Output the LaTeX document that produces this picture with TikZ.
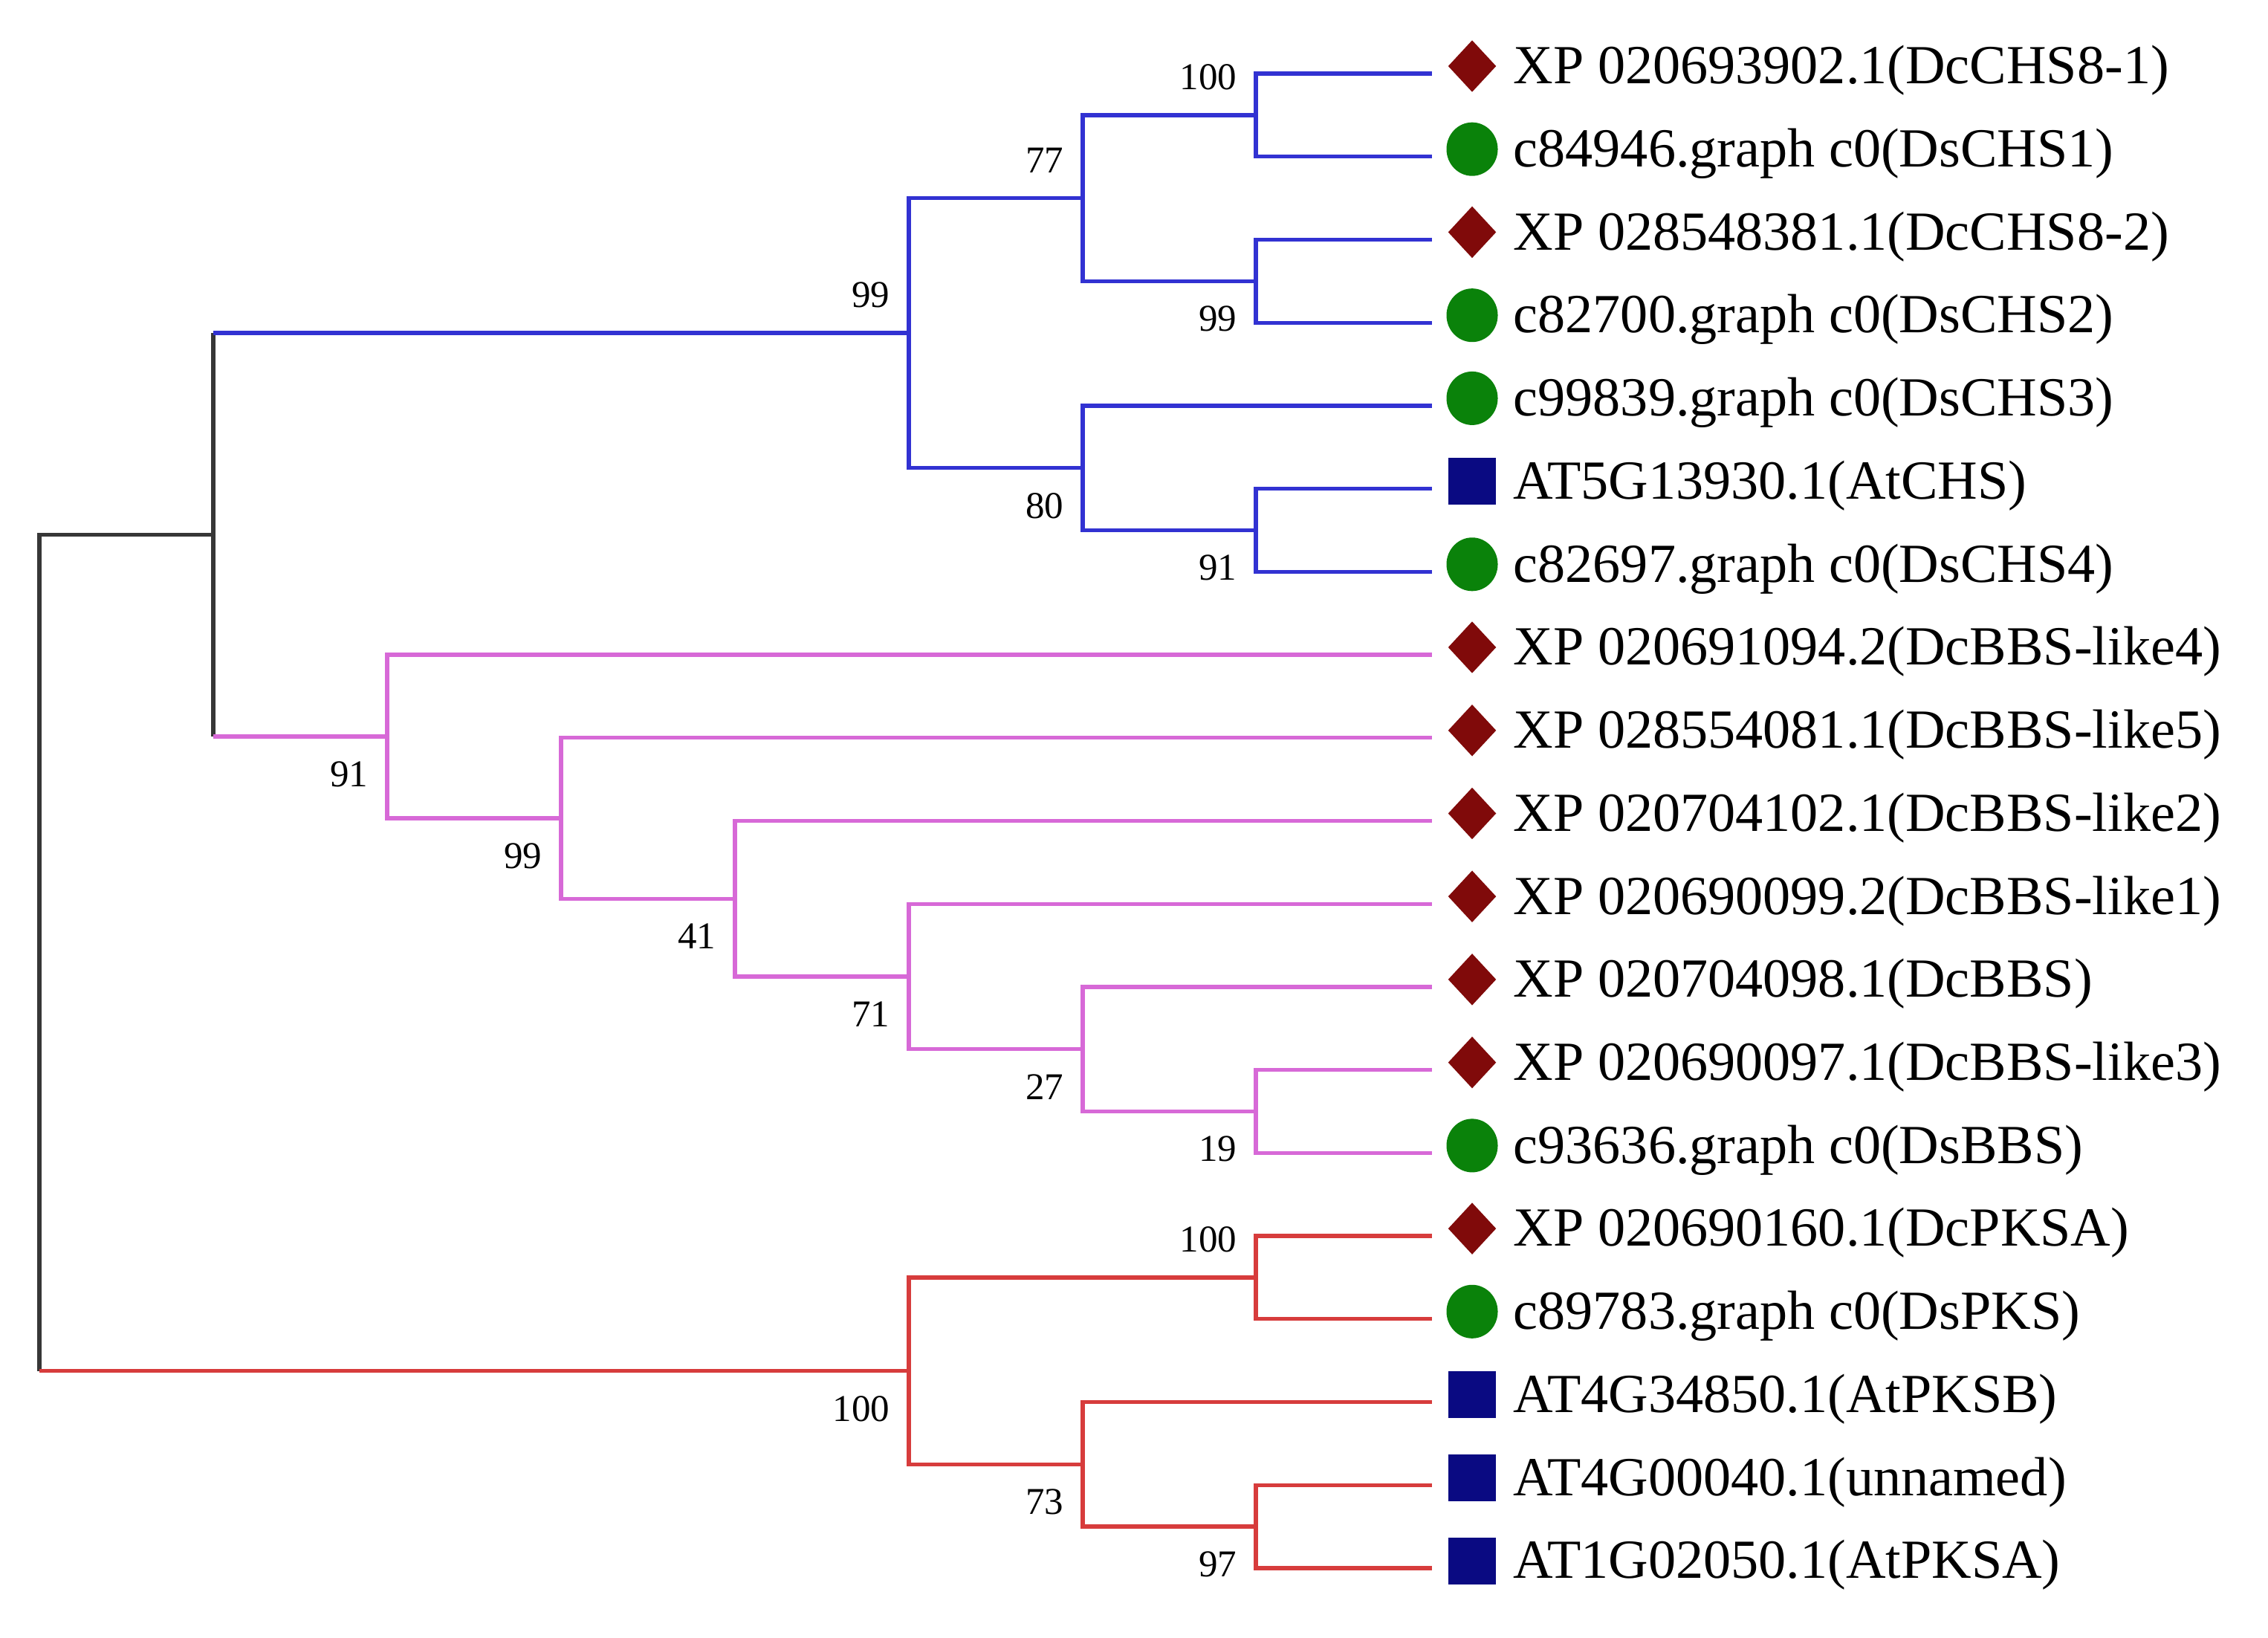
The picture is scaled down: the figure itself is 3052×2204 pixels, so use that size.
\documentclass[tikz,border=0pt]{standalone}
\usepackage{fontspec}
\setmainfont{Liberation Serif}
\usetikzlibrary{shapes.geometric, positioning}

\definecolor{chsblue}{RGB}{50,50,210}
\definecolor{bbspink}{RGB}{215,105,215}
\definecolor{pksred}{RGB}{215,60,60}
\definecolor{rootgray}{RGB}{55,55,55}
\definecolor{dcred}{RGB}{128,10,10}
\definecolor{dsgreen}{RGB}{10,130,10}
\definecolor{atnavy}{RGB}{10,10,130}

\begin{document}
\begin{tikzpicture}[x=0.01cm, y=-0.01cm,
	branch/.style={line width=1.5pt},
	chs/.style={branch, draw=chsblue},
	bbs/.style={branch, draw=bbspink},
	pks/.style={branch, draw=pksred},
	rootline/.style={branch, draw=rootgray},
	leaf/.style={anchor=west, inner sep=0pt, font=\fontsize{21.1}{24}\selectfont},
	boot/.style={inner sep=0pt, font=\fontsize{14.5}{16}\selectfont},
	dcmark/.style={diamond, fill=dcred, minimum width=0.65cm, minimum height=0.7cm, inner sep=0pt},
	dsmark/.style={ellipse, fill=dsgreen, minimum width=0.69cm, minimum height=0.72cm, inner sep=0pt},
	atmark/.style={rectangle, fill=atnavy, minimum width=0.64cm, minimum height=0.63cm, inner sep=0pt}]
	\useasboundingbox (0,0) rectangle (3052,2204);

	\coordinate (rtop) at (53,719.6);
	\coordinate (rbot) at (53,1844.6);
	\coordinate (uptop) at (287,448.1);
	\coordinate (upbot) at (287,991.0);
	\coordinate (nup) at (287,719.6);

	\coordinate (nCHS) at (1223,448.1);
	\coordinate (n77) at (1457,266.6);
	\coordinate (n80) at (1457,629.7);
	\coordinate (n100a) at (1690,154.9);
	\coordinate (n99a) at (1690,378.3);
	\coordinate (n91a) at (1690,713.5);

	\coordinate (n91b) at (521,991.0);
	\coordinate (n99b) at (755,1101.0);
	\coordinate (n41) at (989,1209.2);
	\coordinate (n71) at (1223,1313.9);
	\coordinate (n27) at (1457,1411.7);
	\coordinate (n19) at (1690,1495.5);

	\coordinate (nPKS) at (1223,1844.6);
	\coordinate (n100c) at (1690,1719.0);
	\coordinate (n73) at (1457,1970.3);
	\coordinate (n97) at (1690,2054.1);

	\coordinate (e0) at (1927,99.0);
	\coordinate (e1) at (1927,210.7);
	\coordinate (e2) at (1927,322.4);
	\coordinate (e3) at (1927,434.2);
	\coordinate (e4) at (1927,545.9);
	\coordinate (e5) at (1927,657.6);
	\coordinate (e6) at (1927,769.3);
	\coordinate (e7) at (1927,881.0);
	\coordinate (e8) at (1927,992.8);
	\coordinate (e9) at (1927,1104.5);
	\coordinate (e10) at (1927,1216.2);
	\coordinate (e11) at (1927,1327.9);
	\coordinate (e12) at (1927,1439.6);
	\coordinate (e13) at (1927,1551.4);
	\coordinate (e14) at (1927,1663.1);
	\coordinate (e15) at (1927,1774.8);
	\coordinate (e16) at (1927,1886.5);
	\coordinate (e17) at (1927,1998.2);
	\coordinate (e18) at (1927,2110.0);

	\node[dcmark] (m0) at (1981,89.0) {};
	\node[dsmark] (m1) at (1981,200.7) {};
	\node[dcmark] (m2) at (1981,312.4) {};
	\node[dsmark] (m3) at (1981,424.2) {};
	\node[dsmark] (m4) at (1981,535.9) {};
	\node[atmark] (m5) at (1981,647.6) {};
	\node[dsmark] (m6) at (1981,759.3) {};
	\node[dcmark] (m7) at (1981,871.0) {};
	\node[dcmark] (m8) at (1981,982.8) {};
	\node[dcmark] (m9) at (1981,1094.5) {};
	\node[dcmark] (m10) at (1981,1206.2) {};
	\node[dcmark] (m11) at (1981,1317.9) {};
	\node[dcmark] (m12) at (1981,1429.6) {};
	\node[dsmark] (m13) at (1981,1541.4) {};
	\node[dcmark] (m14) at (1981,1653.1) {};
	\node[dsmark] (m15) at (1981,1764.8) {};
	\node[atmark] (m16) at (1981,1876.5) {};
	\node[atmark] (m17) at (1981,1988.2) {};
	\node[atmark] (m18) at (1981,2100.0) {};

	\node[leaf] (t0) at (2036,95) {XP 020693902.1(DcCHS8-1)};
	\node[leaf] (t1) at (2036,206.7) {c84946.graph c0(DsCHS1)};
	\node[leaf] (t2) at (2036,318.4) {XP 028548381.1(DcCHS8-2)};
	\node[leaf] (t3) at (2036,430.2) {c82700.graph c0(DsCHS2)};
	\node[leaf] (t4) at (2036,541.9) {c99839.graph c0(DsCHS3)};
	\node[leaf] (t5) at (2036,653.6) {AT5G13930.1(AtCHS)};
	\node[leaf] (t6) at (2036,765.3) {c82697.graph c0(DsCHS4)};
	\node[leaf] (t7) at (2036,877.0) {XP 020691094.2(DcBBS-like4)};
	\node[leaf] (t8) at (2036,988.8) {XP 028554081.1(DcBBS-like5)};
	\node[leaf] (t9) at (2036,1100.5) {XP 020704102.1(DcBBS-like2)};
	\node[leaf] (t10) at (2036,1212.2) {XP 020690099.2(DcBBS-like1)};
	\node[leaf] (t11) at (2036,1323.9) {XP 020704098.1(DcBBS)};
	\node[leaf] (t12) at (2036,1435.6) {XP 020690097.1(DcBBS-like3)};
	\node[leaf] (t13) at (2036,1547.4) {c93636.graph c0(DsBBS)};
	\node[leaf] (t14) at (2036,1659.1) {XP 020690160.1(DcPKSA)};
	\node[leaf] (t15) at (2036,1770.8) {c89783.graph c0(DsPKS)};
	\node[leaf] (t16) at (2036,1882.5) {AT4G34850.1(AtPKSB)};
	\node[leaf] (t17) at (2036,1994.2) {AT4G00040.1(unnamed)};
	\node[leaf] (t18) at (2036,2106.0) {AT1G02050.1(AtPKSA)};

	\draw[rootline] (nup) -- (rtop) -- (rbot);
	\draw[rootline] (uptop) -- (upbot);
	\draw[chs] (uptop) -- (nCHS);
	\draw[bbs] (upbot) -- (n91b);
	\draw[pks] (rbot) -- (nPKS);

	\draw[chs] (nCHS) |- (n77);
	\draw[chs] (nCHS) |- (n80);
	\draw[chs] (n77) |- (n100a);
	\draw[chs] (n77) |- (n99a);
	\draw[chs] (n100a) |- (e0);
	\draw[chs] (n100a) |- (e1);
	\draw[chs] (n99a) |- (e2);
	\draw[chs] (n99a) |- (e3);
	\draw[chs] (n80) |- (e4);
	\draw[chs] (n80) |- (n91a);
	\draw[chs] (n91a) |- (e5);
	\draw[chs] (n91a) |- (e6);

	\draw[bbs] (n91b) |- (e7);
	\draw[bbs] (n91b) |- (n99b);
	\draw[bbs] (n99b) |- (e8);
	\draw[bbs] (n99b) |- (n41);
	\draw[bbs] (n41) |- (e9);
	\draw[bbs] (n41) |- (n71);
	\draw[bbs] (n71) |- (e10);
	\draw[bbs] (n71) |- (n27);
	\draw[bbs] (n27) |- (e11);
	\draw[bbs] (n27) |- (n19);
	\draw[bbs] (n19) |- (e12);
	\draw[bbs] (n19) |- (e13);

	\draw[pks] (nPKS) |- (n100c);
	\draw[pks] (nPKS) |- (n73);
	\draw[pks] (n100c) |- (e14);
	\draw[pks] (n100c) |- (e15);
	\draw[pks] (n73) |- (e16);
	\draw[pks] (n73) |- (n97);
	\draw[pks] (n97) |- (e17);
	\draw[pks] (n97) |- (e18);

	\node[boot, above left=0.33cm and 0.25cm of n100a] (b100a) {100};
	\node[boot, above left=0.33cm and 0.25cm of n77] (b77) {77};
	\node[boot, below left=0.33cm and 0.25cm of n99a] (b99a) {99};
	\node[boot, above left=0.33cm and 0.25cm of nCHS] (bCHS) {99};
	\node[boot, below left=0.33cm and 0.25cm of n80] (b80) {80};
	\node[boot, below left=0.33cm and 0.25cm of n91a] (b91a) {91};
	\node[boot, below left=0.33cm and 0.25cm of n91b] (b91b) {91};
	\node[boot, below left=0.33cm and 0.25cm of n99b] (b99b) {99};
	\node[boot, below left=0.33cm and 0.25cm of n41] (b41) {41};
	\node[boot, below left=0.33cm and 0.25cm of n71] (b71) {71};
	\node[boot, below left=0.33cm and 0.25cm of n27] (b27) {27};
	\node[boot, below left=0.33cm and 0.25cm of n19] (b19) {19};
	\node[boot, above left=0.33cm and 0.25cm of n100c] (b100c) {100};
	\node[boot, below left=0.33cm and 0.25cm of nPKS] (bPKS) {100};
	\node[boot, below left=0.33cm and 0.25cm of n73] (b73) {73};
	\node[boot, below left=0.33cm and 0.25cm of n97] (b97) {97};
\end{tikzpicture}
\end{document}
